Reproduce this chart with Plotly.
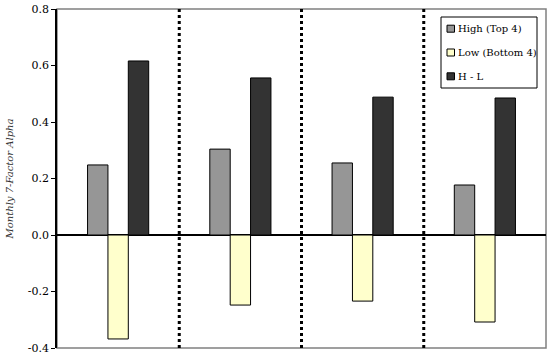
import plotly.graph_objects as go

groups = ["G1", "G2", "G3", "G4"]
high = [0.248, 0.304, 0.255, 0.177]
low = [-0.368, -0.248, -0.234, -0.308]
hl = [0.616, 0.556, 0.488, 0.485]
names = ["High (Top 4)", "Low (Bottom 4)", "H - L"]
colors = ["#969696", "#FFFFCC", "#333333"]
yticks = [-0.4, -0.2, 0.0, 0.2, 0.4, 0.6, 0.8]
yticktext = ["-0.4", "-0.2", "0.0", "0.2", "0.4", "0.6", "0.8"]

SERIF = "DejaVu Serif"
W, H = 550, 355
L, R, T, B = 57, 4, 9, 7
pw, ph = W - L - R, H - T - B

def px(x):
    return (x - L) / pw

def py(y):
    return (H - B - y) / ph

fig = go.Figure()
line = dict(color="black", width=1)
for vals, nm, c in zip([high, low, hl], names, colors):
    fig.add_bar(x=groups, y=vals, name=nm, marker=dict(color=c, line=line))

for b in [0.5, 1.5, 2.5]:
    fig.add_shape(type="line", xref="x", yref="paper", x0=b, x1=b, y0=0, y1=1,
                  line=dict(color="black", width=3, dash="dot"))
# gray frame (top, right, bottom)
fig.add_shape(type="rect", xref="paper", yref="paper", x0=0, x1=1, y0=0, y1=1,
              line=dict(color="#808080", width=1.5), layer="below")

# legend box drawn manually (compact Excel-like legend)
fig.add_shape(type="rect", xref="paper", yref="paper",
              x0=px(441), x1=px(537), y0=py(88), y1=py(17),
              line=dict(color="black", width=1), fillcolor="white")
for i, (nm, c) in enumerate(zip(names, colors)):
    cy = 28.7 + i * 23.8
    fig.add_shape(type="rect", xref="paper", yref="paper",
                  x0=px(447), x1=px(454.5), y0=py(cy + 3.5), y1=py(cy - 3.5),
                  line=dict(color="black", width=1), fillcolor=c)
    fig.add_annotation(xref="paper", yref="paper", x=px(455.5), y=py(cy),
                       xanchor="left", yanchor="middle", showarrow=False, text=nm,
                       font=dict(family=SERIF, size=10, color="black"))

fig.update_layout(
    width=W, height=H,
    margin=dict(l=L, r=R, t=T, b=B, autoexpand=False),
    paper_bgcolor="white", plot_bgcolor="white",
    barmode="group", bargap=0.5, bargroupgap=0,
    font=dict(family=SERIF, size=11, color="black"),
    showlegend=False,
    xaxis=dict(range=[-0.5, 3.5], showticklabels=False, showgrid=False,
               zeroline=False, showline=False, ticks=""),
    yaxis=dict(range=[-0.4, 0.8], tickvals=yticks, ticktext=yticktext,
               showgrid=False, zeroline=True, zerolinecolor="black", zerolinewidth=1.5,
               showline=True, linecolor="black", linewidth=1.5,
               ticks="outside", ticklen=4, tickcolor="black",
               ticklabeloverflow="allow",
               tickfont=dict(family=SERIF, size=11),
               title=dict(text="Monthly 7-Factor Alpha",
                          font=dict(family=SERIF, size=10, style="italic", color="#333333"),
                          standoff=12)),
)

fig.write_html("out.html")
